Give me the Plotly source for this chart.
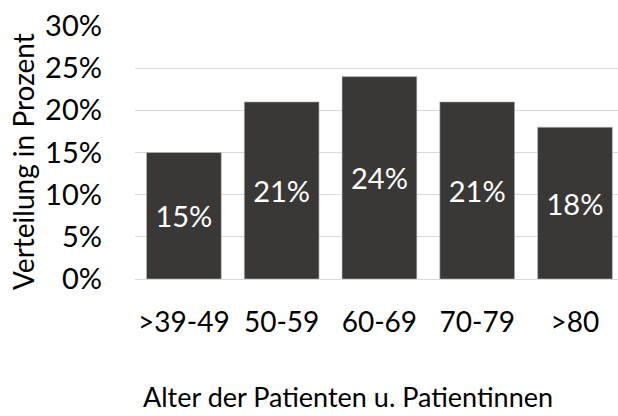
import plotly.graph_objects as go

# Age groups and their share of patients
age_groups = [">39-49", "50-59", "60-69", "70-79", ">80"]
shares = [0.15, 0.21, 0.24, 0.21, 0.18]
y_ticks = [0, 0.05, 0.10, 0.15, 0.20, 0.25, 0.30]
y_tick_labels = ["0%", "5%", "10%", "15%", "20%", "25%", "30%"]

FONT = "Lato, 'Open Sans', sans-serif"
W, H = 618, 416
L, R, T, B = 135, 0, 26, 137

fig = go.Figure(
    go.Bar(
        x=age_groups,
        y=shares,
        marker=dict(color="#3a3836", line=dict(color="#bdbdbd", width=0.6)),
        text=[f"{v:.0%}" for v in shares],
        textposition="inside",
        insidetextanchor="middle",
        textfont=dict(color="white", size=29, family=FONT),
        textangle=0,
        hoverinfo="skip",
    )
)

fig.update_layout(
    width=W,
    height=H,
    margin=dict(l=L, r=R, t=T, b=B),
    paper_bgcolor="white",
    plot_bgcolor="white",
    bargap=0.235,
    showlegend=False,
    font=dict(family=FONT, size=28, color="black"),
)

fig.update_xaxes(
    range=[-0.5, 4.44],
    showgrid=False,
    showline=False,
    ticks="",
    ticklabelstandoff=24,
    tickfont=dict(size=28, color="black"),
)

fig.update_yaxes(
    range=[0, 0.30],
    tickvals=y_ticks,
    ticktext=y_tick_labels,
    showgrid=True,
    gridcolor="#d9d9d9",
    gridwidth=1.2,
    zeroline=True,
    zerolinecolor="#d9d9d9",
    zerolinewidth=1.2,
    showline=False,
    ticks="",
    ticklabelstandoff=32,
    tickfont=dict(size=29, color="black"),
)

# Axis titles
fig.add_annotation(
    text="Verteilung in Prozent",
    xref="paper", yref="paper",
    x=-(L - 23) / (W - L - R), y=1 - (162 - T) / (H - T - B),
    textangle=-90,
    showarrow=False,
    xanchor="center", yanchor="middle",
    font=dict(size=28, color="black", family=FONT),
)
fig.add_annotation(
    text="Alter der Patienten u. Patientinnen",
    xref="paper", yref="paper",
    x=(348 - L) / (W - L - R), y=-(396 - (H - B)) / (H - T - B),
    showarrow=False,
    xanchor="center", yanchor="middle",
    font=dict(size=27, color="black", family=FONT),
)

fig.write_html("out.html")
